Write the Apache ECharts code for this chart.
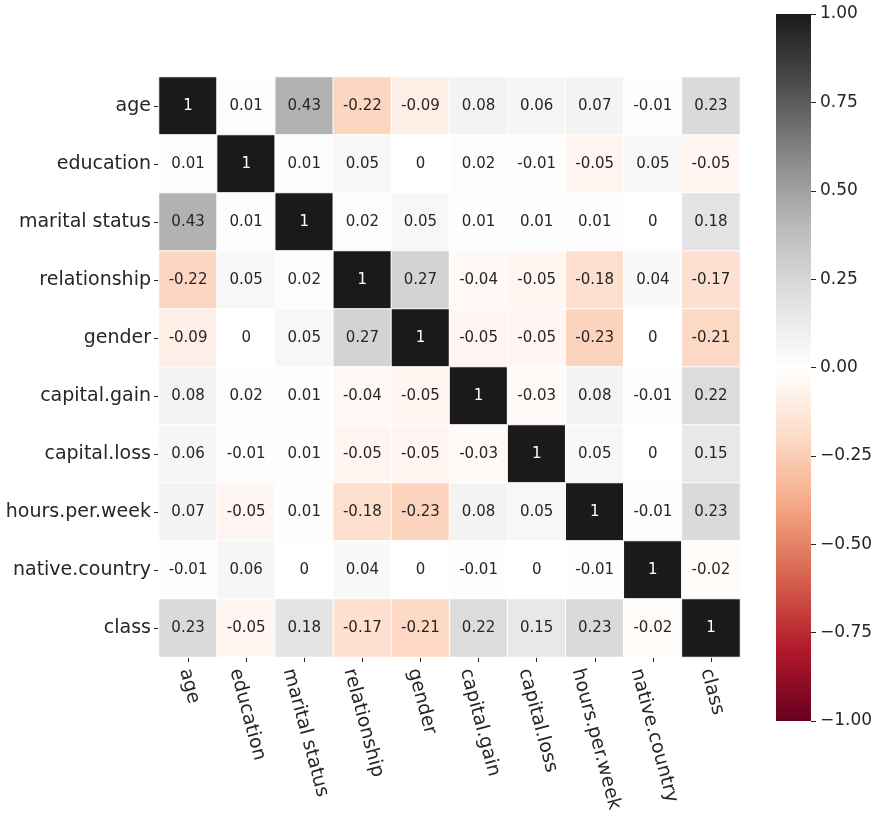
<!DOCTYPE html>
<html>
<head>
<meta charset="utf-8">
<script src="https://cdn.jsdelivr.net/npm/echarts@6/dist/echarts.min.js"></script>
<style>
  html, body { margin: 0; padding: 0; background: #ffffff; }
</style>
</head>
<body>
<div id="main" style="width: 877px; height: 817px;"></div>
<script>
// 变量名
var features = [
  "age", "education", "marital status", "relationship", "gender",
  "capital.gain", "capital.loss", "hours.per.week", "native.country", "class"
];

// 相关系数矩阵（按行）
var rowAge = [1, 0.01, 0.43, -0.22, -0.09, 0.08, 0.06, 0.07, -0.01, 0.23];
var rowEducation = [0.01, 1, 0.01, 0.05, 0, 0.02, -0.01, -0.05, 0.05, -0.05];
var rowMarital = [0.43, 0.01, 1, 0.02, 0.05, 0.01, 0.01, 0.01, 0, 0.18];
var rowRelationship = [-0.22, 0.05, 0.02, 1, 0.27, -0.04, -0.05, -0.18, 0.04, -0.17];
var rowGender = [-0.09, 0, 0.05, 0.27, 1, -0.05, -0.05, -0.23, 0, -0.21];
var rowCapitalGain = [0.08, 0.02, 0.01, -0.04, -0.05, 1, -0.03, 0.08, -0.01, 0.22];
var rowCapitalLoss = [0.06, -0.01, 0.01, -0.05, -0.05, -0.03, 1, 0.05, 0, 0.15];
var rowHours = [0.07, -0.05, 0.01, -0.18, -0.23, 0.08, 0.05, 1, -0.01, 0.23];
var rowCountry = [-0.01, 0.06, 0, 0.04, 0, -0.01, 0, -0.01, 1, -0.02];
var rowClass = [0.23, -0.05, 0.18, -0.17, -0.21, 0.22, 0.15, 0.23, -0.02, 1];

// 色标刻度
var cbMin = -1;
var cbMax = 1;
var cbStep = 0.25;

// RdGy 配色（-1 → 1）
var rdgy = [
  "#67001f", "#b2182b", "#d6604d", "#f4a582", "#fddbc7", "#ffffff",
  "#e0e0e0", "#bababa", "#878787", "#4d4d4d", "#1a1a1a"
];

var rows = [rowAge, rowEducation, rowMarital, rowRelationship, rowGender,
  rowCapitalGain, rowCapitalLoss, rowHours, rowCountry, rowClass];

var heatData = [];
rows.forEach(function (row, y) {
  row.forEach(function (v, x) {
    heatData.push({
      value: [x, y, v],
      label: { color: v > 0.6 ? "#ffffff" : "#262626" }
    });
  });
});

// 渐变：顶部为 cbMax
var stops = rdgy.slice().reverse().map(function (c, i) {
  return { offset: i / (rdgy.length - 1), color: c };
});

var font = "DejaVu Sans";
var tickFont = 19;

// x 轴标签旋转后按包围盒居中（类似 matplotlib 的 ha=center）
var ctx = document.createElement("canvas").getContext("2d");
ctx.font = tickFont + "px '" + font + "'";
var ang = 75 * Math.PI / 180;
var cosA = Math.cos(ang), sinA = Math.sin(ang);
var shiftY = 6;
var xRich = {};
features.forEach(function (name, i) {
  var L = ctx.measureText(name).width;
  var a = (0.5 * cosA * L + (cosA / sinA) * shiftY * cosA) / (sinA + cosA * cosA / sinA);
  var pl = Math.max((shiftY - cosA * a) / sinA, 0);
  xRich["l" + i] = {
    fontSize: tickFont,
    fontFamily: font,
    color: "#262626",
    padding: [2 * a, 0, 0, pl]
  };
});

var chart = echarts.init(document.getElementById("main"));
chart.setOption({
  animation: false,
  backgroundColor: "#ffffff",
  textStyle: { fontFamily: font },
  grid: [
    { left: 159, top: 77, width: 581, height: 580 },
    { left: 776, top: 14, width: 35, height: 707 }
  ],
  xAxis: [
    {
      type: "category",
      gridIndex: 0,
      data: features,
      axisLine: { show: false },
      axisTick: { show: true, alignWithLabel: true, length: 5, lineStyle: { color: "#262626" } },
      axisLabel: {
        rotate: -75, fontSize: tickFont, color: "#262626", margin: 6,
        fontFamily: font, align: "left", verticalAlign: "middle",
        formatter: function (v, i) { return "{l" + i + "|" + v + "}"; },
        rich: xRich
      },
      splitLine: { show: false }
    },
    {
      type: "category",
      gridIndex: 1,
      data: ["cb"],
      show: false
    }
  ],
  yAxis: [
    {
      type: "category",
      gridIndex: 0,
      data: features,
      inverse: true,
      axisLine: { show: false },
      axisTick: { show: true, alignWithLabel: true, length: 5, lineStyle: { color: "#262626" } },
      axisLabel: { fontSize: tickFont, color: "#262626", margin: 8, fontFamily: font },
      splitLine: { show: false }
    },
    {
      type: "value",
      gridIndex: 1,
      min: 0,
      max: cbMax - cbMin,
      show: false
    },
    {
      type: "value",
      gridIndex: 1,
      position: "right",
      min: cbMin,
      max: cbMax,
      interval: cbStep,
      axisLine: { show: false },
      axisTick: { show: true, length: 5, lineStyle: { color: "#262626" } },
      axisLabel: {
        fontSize: 17,
        color: "#262626",
        margin: 9,
        fontFamily: font,
        formatter: function (v) {
          return v.toFixed(2).replace("-", "\u2212");
        }
      },
      splitLine: { show: false }
    }
  ],
  visualMap: {
    show: false,
    seriesIndex: 0,
    min: cbMin,
    max: cbMax,
    dimension: 2,
    inRange: { color: rdgy }
  },
  series: [
    {
      type: "heatmap",
      xAxisIndex: 0,
      yAxisIndex: 0,
      data: heatData,
      itemStyle: { borderColor: "#ffffff", borderWidth: 1 },
      label: {
        show: true,
        fontSize: 15,
        fontFamily: font,
        formatter: function (p) { return String(p.value[2]); }
      }
    },
    {
      type: "bar",
      xAxisIndex: 1,
      yAxisIndex: 1,
      barWidth: "100%",
      data: [cbMax - cbMin],
      itemStyle: {
        color: new echarts.graphic.LinearGradient(0, 0, 0, 1, stops)
      },
      silent: true
    }
  ]
});
</script>
</body>
</html>
